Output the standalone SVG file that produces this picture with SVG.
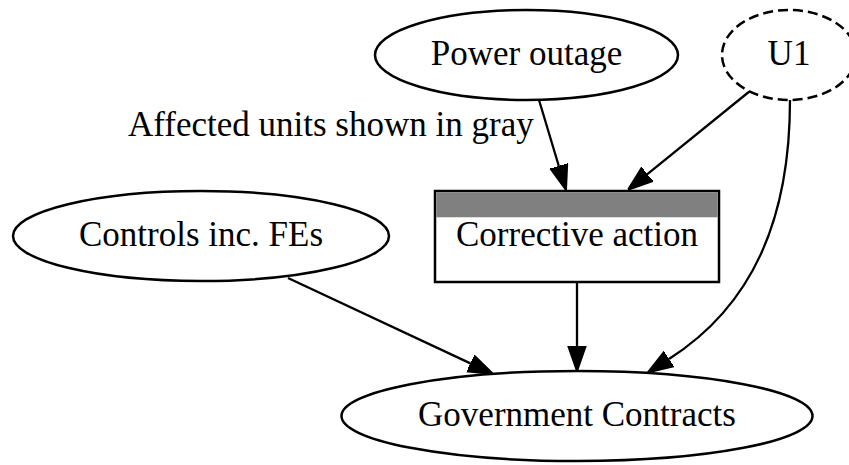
<svg xmlns="http://www.w3.org/2000/svg" width="849" height="465" viewBox="0 0 849 465">
<defs>
<marker id="arr" viewBox="0 0 25 20" refX="0" refY="10" markerWidth="25" markerHeight="20" markerUnits="userSpaceOnUse" orient="auto">
<path d="M0,1.25 L25,10 L0,18.75 z" fill="#000" stroke="#000" stroke-width="2"/>
</marker>
<style>
text{font-family:"Liberation Serif","Times New Roman",serif;font-size:35px;fill:#000}
.c{text-anchor:middle}
.n{fill:#fff;stroke:#000;stroke-width:2.5}
.e{fill:none;stroke:#000;stroke-width:2.3;marker-end:url(#arr)}
</style>
</defs>
<rect width="849" height="465" fill="#fff"/>
<text x="128" y="136">Affected units shown in gray</text>
<g id="edges">
<path class="e" d="M539,100 L558.8,166"/>
<path class="e" d="M750,91 L647.4,174.2"/>
<path class="e" d="M288,278 L470.4,363.4"/>
<path class="e" d="M577,282 L577,346"/>
<path class="e" d="M790,100 C790,220 752,306 669,359"/>
</g>
<g id="power_outage">
<ellipse class="n" cx="526.5" cy="55" rx="151.5" ry="45"/>
<text class="c" x="526.5" y="64.5">Power outage</text>
</g>
<g id="u1">
<ellipse class="n" cx="789" cy="55" rx="67" ry="45" stroke-dasharray="10,5"/>
<text class="c" x="789" y="64.5">U1</text>
</g>
<g id="controls">
<ellipse class="n" cx="201" cy="236" rx="188" ry="45"/>
<text class="c" x="201" y="245.5">Controls inc. FEs</text>
</g>
<g id="corrective_action">
<rect class="n" x="435" y="191" width="284" height="91"/>
<rect x="436.25" y="192.25" width="281.5" height="25" fill="#808080"/>
<text class="c" x="577" y="245.5">Corrective action</text>
</g>
<g id="government_contracts">
<ellipse class="n" cx="577" cy="416" rx="235.5" ry="45"/>
<text class="c" x="577" y="425.5">Government Contracts</text>
</g>
</svg>
